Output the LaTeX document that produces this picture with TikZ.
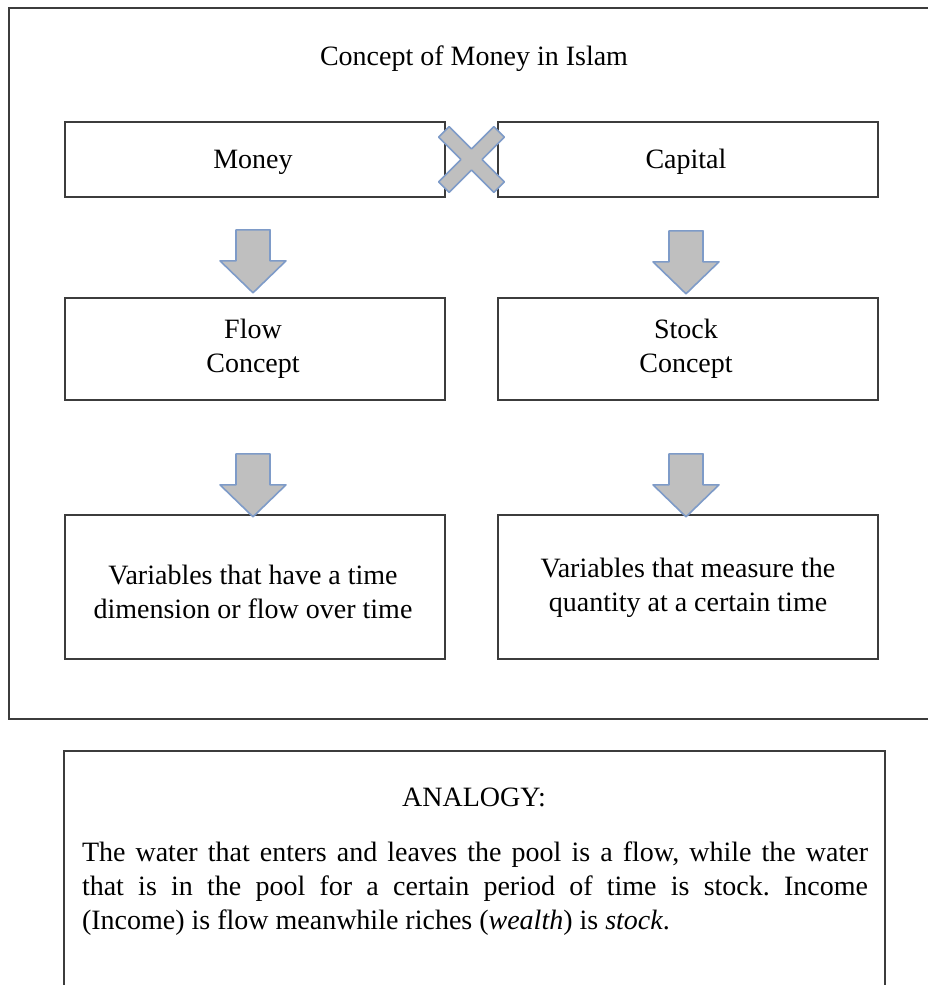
\documentclass[tikz,border=0pt]{standalone}
\usepackage{fontspec}
\setmainfont{Liberation Serif}
\usetikzlibrary{calc}
\definecolor{framegray}{HTML}{3C3C3C}
\definecolor{arrowfill}{HTML}{BFBFBF}
\definecolor{arrowline}{HTML}{7E9BC8}
\tikzset{
  boxnode/.style={draw=framegray, line width=1.6pt, minimum width=380pt, inner sep=0pt},
  txt/.style={inner sep=0pt, align=center, font=\fontsize{28}{34}\selectfont},
  frame/.style={draw=framegray, line width=1.6pt},
  arrowstyle/.style={fill=arrowfill, draw=arrowline, line width=1.6pt, line join=round},
  blockarrow/.pic={\path[arrowstyle] (-17,0) -- (17,0) -- (17,31) -- (33,31) -- (0,63) -- (-33,31) -- (-17,31) -- cycle;},
  crossmark/.pic={\path[arrowstyle, rotate=45] (7.5,39) -- (7.5,7.5) -- (39,7.5) -- (39,-7.5) -- (7.5,-7.5) -- (7.5,-39) -- (-7.5,-39) -- (-7.5,-7.5) -- (-39,-7.5) -- (-39,7.5) -- (-7.5,7.5) -- (-7.5,39) -- cycle;}
}
\begin{document}
\begin{tikzpicture}[x=1pt,y=-1pt]
\useasboundingbox (0,0) rectangle (928,985);
\clip (0,0) rectangle (928,985);
\fill[white] (0,0) rectangle (928,985);
% outer frame
\draw[frame] (9,8) rectangle (940,719);
\node[txt] (title) at (474,59) {Concept of Money in Islam};
% boxes
\node[boxnode, minimum height=75pt] (money) at (255,159.5) {};
\node[boxnode, minimum height=75pt] (capital) at (688,159.5) {};
\node[boxnode, minimum height=102pt] (flow) at (255,349) {};
\node[boxnode, minimum height=102pt] (stock) at (688,349) {};
\node[boxnode, minimum height=144pt] (varl) at (255,587) {};
\node[boxnode, minimum height=144pt] (varr) at (688,587) {};
% box texts
\node[txt] (moneytext) at ($(money.center)+(-2,3)$) {Money};
\node[txt] (capitaltext) at ($(capital.center)+(-2,2)$) {Capital};
\node[txt] (flowtext) at ($(flow.center)+(-2,0)$) {Flow\\Concept};
\node[txt] (stocktext) at ($(stock.center)+(-2,0)$) {Stock\\Concept};
\node[txt] (varltext) at ($(varl.center)+(-2,5)$) {Variables that have a time\\dimension or flow over time};
\node[txt] (varrtext) at ($(varr.center)+(0,1)$) {Variables that measure the\\quantity at a certain time};
% block arrows
\pic at ($(money.south)+(-2,32)$) {blockarrow};
\pic at ($(capital.south)+(-2,33)$) {blockarrow};
\pic at ($(flow.south)+(-2,53)$) {blockarrow};
\pic at ($(stock.south)+(-2,53)$) {blockarrow};
% cross between money and capital
\coordinate (xc) at ($(money.east)!0.5!(capital.west)$);
\pic at (xc) {crossmark};
% analogy box
\draw[frame] (64,751) rectangle (885,1000);
\node[txt] (analogy) at (474,797) {ANALOGY:};
\node[inner sep=0pt, text width=786pt, align=justify, font=\fontsize{28}{34}\selectfont\frenchspacing] (analogytext) at (475,889)
{The water that enters and leaves the pool is a flow, while the water\linebreak
that is in the pool for a certain period of time is stock. Income\linebreak
(Income) is flow meanwhile riches (\textit{wealth}) is \textit{stock}.};
\end{tikzpicture}
\end{document}
